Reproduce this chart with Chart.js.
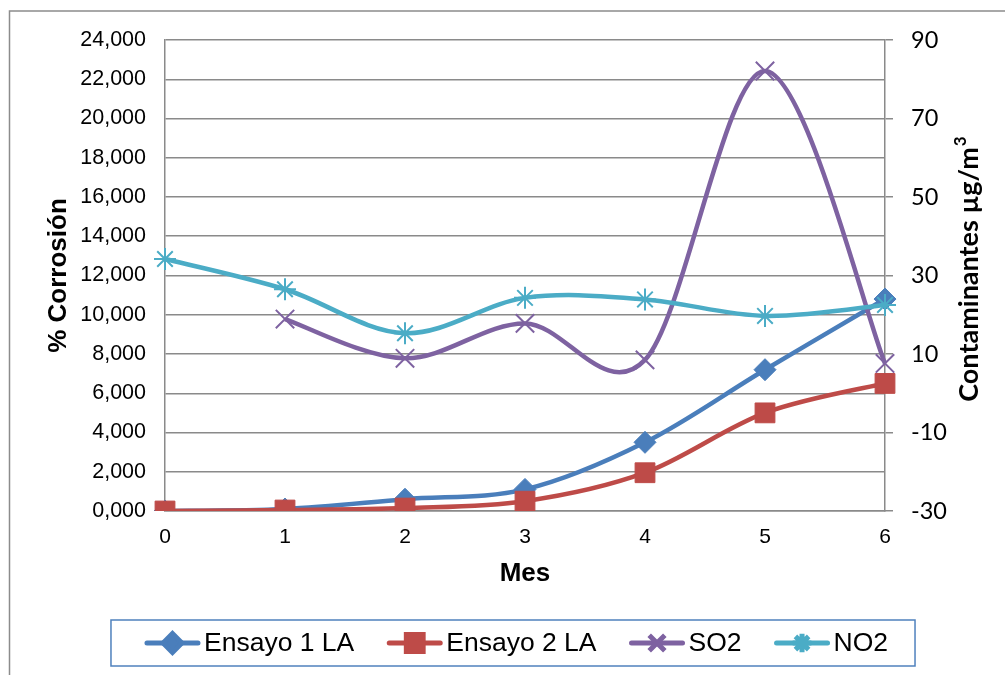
<!DOCTYPE html>
<html>
<head>
<meta charset="utf-8">
<script src="https://cdn.jsdelivr.net/npm/chart.js@4.4.1/dist/chart.umd.min.js"></script>
<style>
  html, body { margin: 0; padding: 0; background: #ffffff; }
  canvas { display: block; }
</style>
</head>
<body>
<canvas id="chart" width="1005" height="675"></canvas>
<script>
// Months of exposure
const months = ['0', '1', '2', '3', '4', '5', '6'];

// Corrosion (%) per trial
const ensayo1 = [0, 0.1, 0.6, 1.1, 3.5, 7.2, 10.8];
const ensayo2 = [0, 0.05, 0.15, 0.5, 1.95, 5.0, 6.5];

// Pollutants (µg/m³)
const so2 = [null, 18.9, 8.9, 17.8, 8.5, 82.1, 7.6];
const no2 = [34.2, 26.5, 15.3, 24.3, 23.9, 19.7, 22.5];

// Axis ranges
const corrosionAxis = { min: 0, max: 24, step: 2 };
const pollutantAxis = { min: -30, max: 90, step: 20 };

const GRID = '#8a8a8a';
const SANS = '"Liberation Sans", Arial, sans-serif';
const ROUND = 'Lato, "Open Sans", sans-serif';

// Smooth curves with Catmull-Rom style control points (1/6 of the neighbour chord)
const smoothCurves = {
  id: 'smoothCurves',
  beforeDatasetDraw(chart, args) {
    const meta = args.meta;
    const line = meta.dataset;
    if (!line) return;
    const pts = meta.data.filter(p => !p.skip);
    for (let i = 0; i < pts.length; i++) {
      const p = pts[i];
      const prev = pts[i - 1] || p;
      const next = pts[i + 1] || p;
      const dx = (next.x - prev.x) / 6;
      const dy = (next.y - prev.y) / 6;
      p.cp1x = p.x - dx; p.cp1y = p.y - dy;
      p.cp2x = p.x + dx; p.cp2y = p.y + dy;
    }
    line._pointsUpdated = true;
    line._path = undefined;
  }
};

// Outer frame, right-hand axis title and the boxed series key
const decorations = {
  id: 'decorations',
  beforeDraw(chart) {
    const ctx = chart.ctx;
    ctx.save();
    ctx.strokeStyle = '#8c8c8c';
    ctx.lineWidth = 1.5;
    ctx.beginPath();
    ctx.moveTo(9.5, 675);
    ctx.lineTo(9.5, 11);
    ctx.lineTo(1005, 11);
    ctx.stroke();
    ctx.restore();
  },
  afterDraw(chart) {
    const ctx = chart.ctx;
    const area = chart.chartArea;

    // Right axis title, reading bottom to top, with superscript 3
    ctx.save();
    ctx.translate(969, (area.top + area.bottom) / 2 - 6);
    ctx.rotate(-Math.PI / 2);
    ctx.fillStyle = '#000';
    ctx.textBaseline = 'middle';
    ctx.textAlign = 'left';
    const main = 'Contaminantes µg/m';
    const sup = '3';
    ctx.font = 'bold 27px ' + ROUND;
    const w1 = ctx.measureText(main).width;
    ctx.font = 'bold 17px ' + ROUND;
    const w2 = ctx.measureText(sup).width;
    const start = -(w1 + w2) / 2;
    ctx.font = 'bold 27px ' + ROUND;
    ctx.fillText(main, start, 0);
    ctx.font = 'bold 17px ' + ROUND;
    ctx.fillText(sup, start + w1 + 1, -8);
    ctx.restore();

    // Series key
    ctx.save();
    ctx.font = '26.5px ' + SANS;
    const symW = 55, symGap = 4, itemGap = 33;
    const items = chart.data.datasets.map(ds => ({ ds, w: ctx.measureText(ds.label).width }));
    let total = 0;
    items.forEach((it, i) => { total += symW + symGap + it.w + (i ? itemGap : 0); });
    const startX = 516.5 - total / 2;
    const cy = 643;
    ctx.strokeStyle = '#4f81bd';
    ctx.lineWidth = 1.5;
    ctx.strokeRect(startX - 34, 620, total + 34 + 27, 46);
    let x = startX;
    items.forEach(it => {
      const ds = it.ds;
      ctx.strokeStyle = ds.borderColor;
      ctx.lineWidth = 5;
      ctx.lineCap = 'round';
      ctx.beginPath();
      ctx.moveTo(x + 2, cy);
      ctx.lineTo(x + symW - 2, cy);
      ctx.stroke();
      ctx.lineCap = 'butt';
      ctx.fillStyle = ds.pointBackgroundColor;
      ctx.strokeStyle = ds.pointBorderColor;
      Chart.helpers.drawPoint(ctx, {
        pointStyle: ds.pointStyle,
        radius: ds.pointRadius * 0.85,
        borderWidth: ds.pointBorderWidth,
        rotation: 0
      }, x + symW / 2, cy);
      ctx.fillStyle = '#000';
      ctx.textBaseline = 'middle';
      ctx.textAlign = 'left';
      ctx.fillText(ds.label, x + symW + symGap, cy + 1);
      x += symW + symGap + it.w + itemGap;
    });
    ctx.restore();
  }
};

new Chart(document.getElementById('chart'), {
  type: 'line',
  data: {
    labels: months,
    datasets: [
      {
        label: 'Ensayo 1 LA', data: ensayo1, yAxisID: 'y', order: 3,
        borderColor: '#4a7ebb', backgroundColor: '#4a7ebb',
        pointBackgroundColor: '#4a7ebb', pointBorderColor: '#4a7ebb',
        pointStyle: 'rectRot', pointRadius: 11, pointBorderWidth: 1,
        borderWidth: 4.5, tension: 0.4
      },
      {
        label: 'Ensayo 2 LA', data: ensayo2, yAxisID: 'y', order: 2,
        borderColor: '#be4b48', backgroundColor: '#be4b48',
        pointBackgroundColor: '#be4b48', pointBorderColor: '#be4b48',
        pointStyle: 'rect', pointRadius: 14, pointBorderWidth: 1,
        borderWidth: 4.5, tension: 0.4
      },
      {
        label: 'SO2', data: so2, yAxisID: 'y1', order: 1,
        borderColor: '#7e62a1', backgroundColor: '#7e62a1',
        pointBackgroundColor: '#7e62a1', pointBorderColor: '#7e62a1',
        pointStyle: 'crossRot', pointRadius: 13, pointBorderWidth: 2,
        borderWidth: 4.5, tension: 0.4
      },
      {
        label: 'NO2', data: no2, yAxisID: 'y1', order: 0,
        borderColor: '#4bacc6', backgroundColor: '#4bacc6',
        pointBackgroundColor: '#4bacc6', pointBorderColor: '#4bacc6',
        pointStyle: 'star', pointRadius: 11, pointBorderWidth: 2,
        borderWidth: 4.5, tension: 0.4
      }
    ]
  },
  options: {
    responsive: false,
    animation: false,
    layout: { padding: { left: 0, right: 0, top: 40, bottom: 75 } },
    plugins: {
      legend: { display: false },
      tooltip: { enabled: false }
    },
    scales: {
      x: {
        type: 'category',
        offset: false,
        grid: { display: false, drawTicks: false },
        border: { display: true, color: GRID, width: 1.5 },
        ticks: { color: '#000', font: { family: SANS, size: 21 }, padding: 14, maxRotation: 0 },
        title: {
          display: true, text: 'Mes', color: '#000',
          font: { family: SANS, size: 26, weight: 'bold' },
          padding: { top: 0, bottom: 11 }
        },
        afterFit(scale) { scale.height = 89; }
      },
      y: {
        position: 'left',
        min: corrosionAxis.min, max: corrosionAxis.max,
        ticks: {
          stepSize: corrosionAxis.step, color: '#000',
          font: { family: SANS, size: 21.5 }, padding: 19,
          callback: v => v.toFixed(3).replace('.', ',')
        },
        grid: { color: GRID, lineWidth: 1.5, drawTicks: false },
        border: { display: true, color: GRID, width: 1.5 },
        title: {
          display: true, text: '% Corrosión', color: '#000',
          font: { family: SANS, size: 26, weight: 'bold' },
          padding: { top: 43, bottom: 0 }
        },
        afterFit(scale) { scale.width = 165; }
      },
      y1: {
        position: 'right',
        min: pollutantAxis.min, max: pollutantAxis.max,
        ticks: {
          stepSize: pollutantAxis.step, color: '#000',
          font: { family: ROUND, size: 23.5 }, padding: 18
        },
        grid: { drawOnChartArea: false, drawTicks: true, tickLength: 8, color: GRID, lineWidth: 1.5 },
        border: { display: true, color: GRID, width: 1.5 },
        title: { display: false },
        afterFit(scale) { scale.width = 120; }
      }
    }
  },
  plugins: [smoothCurves, decorations]
});
</script>
</body>
</html>
